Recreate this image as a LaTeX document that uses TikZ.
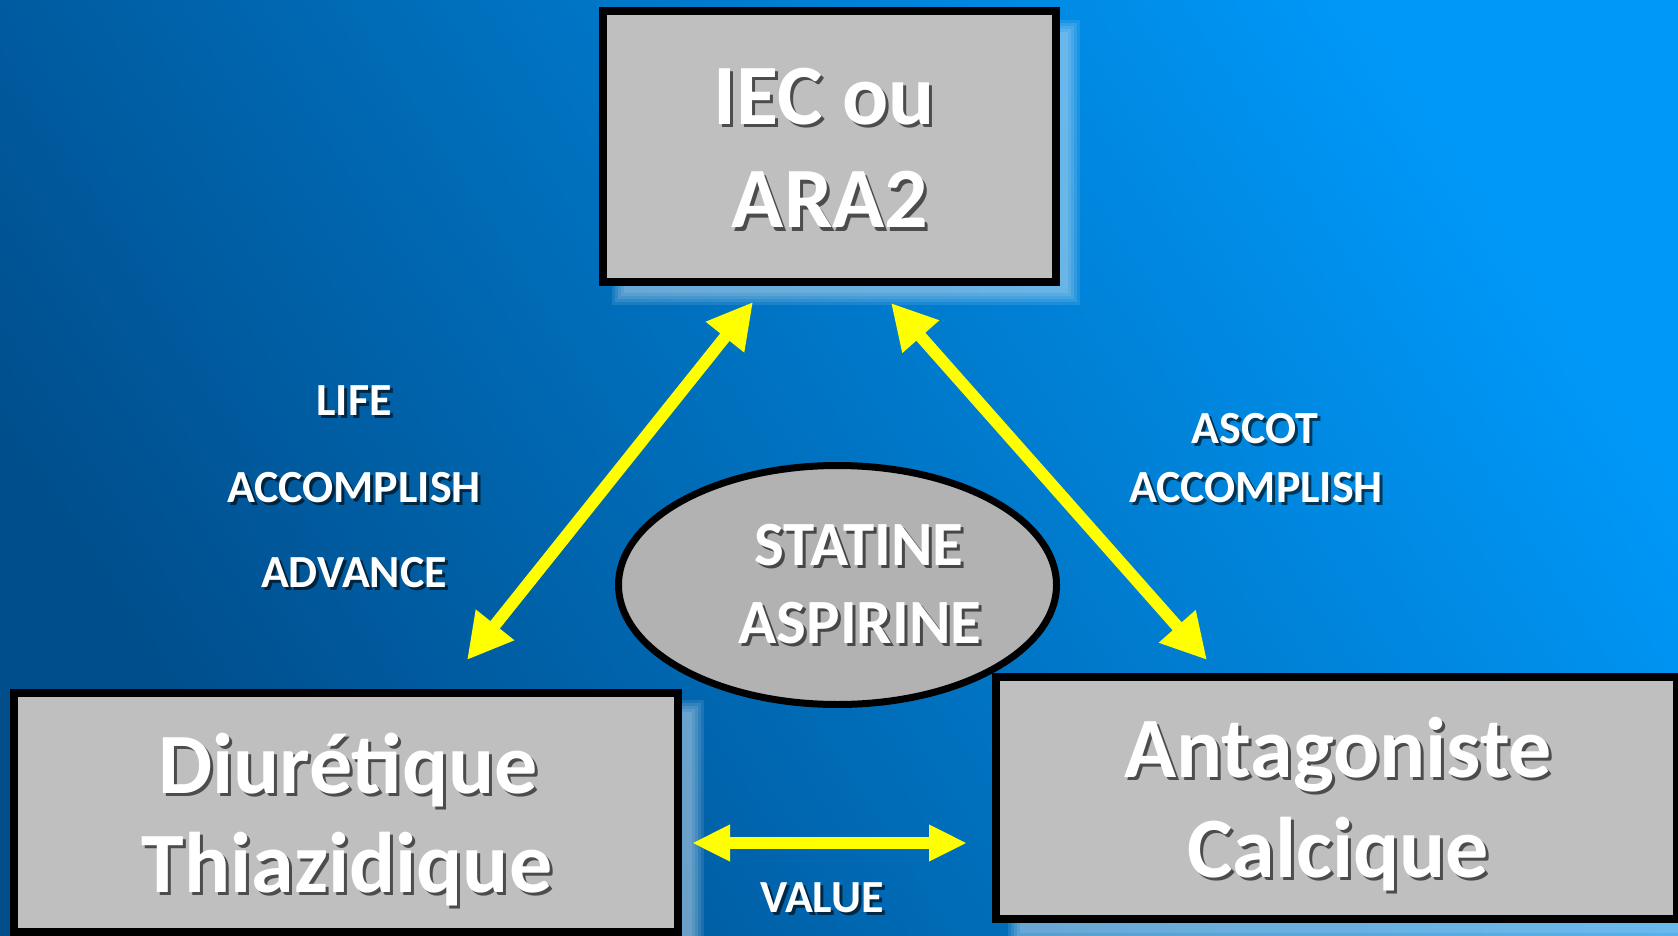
\documentclass[tikz,border=0pt]{standalone}
\usepackage{fontspec}
\setmainfont{Carlito}
\usetikzlibrary{arrows.meta,shapes.geometric}
\definecolor{bgdark}{HTML}{004E8C}
\definecolor{bglight}{HTML}{0098F8}
\definecolor{boxgray}{HTML}{BFBFBF}
\definecolor{ellgray}{HTML}{B2B2B2}
\definecolor{arrowyellow}{HTML}{FFFF00}
\tikzset{
  graybox/.style={rectangle, draw=black, line width=8pt, fill=boxgray, inner sep=0pt, outer sep=0pt},
  grayell/.style={ellipse, draw=black, line width=7pt, fill=ellgray, inner sep=0pt, outer sep=0pt},
  txtmain/.style={anchor=base, text=white, inner sep=0pt},
  txtshadow/.style={anchor=base, text=black, opacity=0.6, inner sep=0pt},
  softshadow/.style={fill=white, opacity=0.1},
  yarrow/.style={draw=arrowyellow, line width=12pt, {Triangle[width=46pt,length=45pt]}-{Triangle[width=46pt,length=45pt]}},
  harrow/.style={draw=arrowyellow, line width=12pt, {Triangle[width=34pt,length=38pt]}-{Triangle[width=34pt,length=38pt]}}
}
\newcommand{\shtext}[5]{%
  \node[txtshadow, font=\fontsize{#4}{#4}\selectfont\bfseries] (#1s) at ({#2+3},{#3+3}) {#5};
  \node[txtmain, font=\fontsize{#4}{#4}\selectfont\bfseries] (#1) at (#2,#3) {#5};
}
\newcommand{\blurbox}[4]{% x1 y1 x2 y2 : layered soft shadow
  \foreach \k in {0,3,6,9,12}{
    \fill[softshadow] ({#1+\k},{#2+\k}) rectangle ({#3-\k},{#4-\k});
  }
}
\begin{document}
\begin{tikzpicture}[x=1pt,y=-1pt]
\useasboundingbox (0,0) rectangle (1678,936);
\shade[bottom color=bgdark, top color=bglight, shading angle=-57] (0,0) rectangle (1678,936);

% soft shadows
\blurbox{612}{20}{1080}{305}
\blurbox{24}{700}{704}{960}
\blurbox{1008}{688}{1700}{945}

% boxes
\node[graybox, minimum width=453pt, minimum height=271pt] (top) at (829.5,146.5) {};
\node[graybox, minimum width=664pt, minimum height=239pt] (left) at (346,812.5) {};
\node[graybox, minimum width=681pt, minimum height=242pt] (right) at (1336.5,798) {};
\node[grayell, minimum width=438pt, minimum height=239pt] (ell) at (837.5,585) {};

% arrows
\coordinate (lt) at (753,302);
\coordinate (lb) at (467,660);
\coordinate (rt) at (891,303);
\coordinate (rb) at (1207,660);
\coordinate (hl) at (692,843);
\coordinate (hr) at (967,843);
\draw[yarrow] (lb) -- (lt);
\draw[yarrow] (rt) -- (rb);
\draw[harrow] (hl) -- (hr);

% texts
\shtext{t1}{824}{125}{86}{IEC ou}
\shtext{t2}{830}{228}{86}{ARA2}
\shtext{t3}{348}{793}{86}{Diurétique}
\shtext{t4}{347}{892}{86}{Thiazidique}
\shtext{t5}{1338}{777}{86}{Antagoniste}
\shtext{t6}{1338}{877}{86}{Calcique}
\shtext{t7}{859}{565}{63}{STATINE}
\shtext{t8}{860}{643}{63}{ASPIRINE}
\shtext{t9}{354}{415}{46}{LIFE}
\shtext{t10}{354}{502}{46}{ACCOMPLISH}
\shtext{t11}{354}{587}{46}{ADVANCE}
\shtext{t12}{1255}{443}{46}{ASCOT}
\shtext{t13}{1256}{502}{46}{ACCOMPLISH}
\shtext{t14}{822}{912}{46}{VALUE}
\end{tikzpicture}
\end{document}
